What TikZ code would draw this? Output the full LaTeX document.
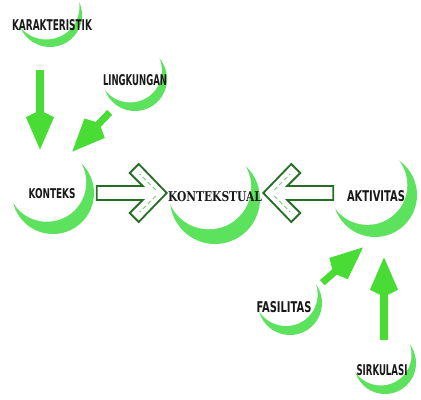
\documentclass[tikz,border=0pt]{standalone}
\usepackage{fontspec}
\usepackage{xcolor}
\usepackage{graphicx}
\usepackage{tikz}
\usetikzlibrary{arrows.meta,positioning,calc}

\newfontfamily\labelfont{DejaVu Sans}
\newfontfamily\centerfont{DejaVu Serif}

\definecolor{moongreen}{RGB}{92,226,92}
\definecolor{leaf}{RGB}{72,220,52}
\definecolor{dkgreen}{RGB}{38,110,38}
\definecolor{palegreen}{RGB}{120,200,120}

\newlength\pxu
\setlength\pxu{0.025cm}
\newcommand{\lbl}[3]{\resizebox{#1\pxu}{#2\pxu}{#3}}
\newcommand{\moon}[5]{%
  \fill[moongreen] (#1,#2) circle[radius=#3];
  \fill[white] ({#1+0.3*#3*cos(#4)},{#2-0.3*#3*sin(#4)}) circle[radius=#5*#3];}

\tikzset{
  tag/.style={inner sep=0pt, font=\labelfont\bfseries, text=black!90},
  garrow/.style={draw=leaf, line width=5pt, -{Kite[length=28pt,width=20pt,inset=5pt]}},
  hollow/.style={draw=dkgreen, line width=1.3pt, line join=miter},
  innerdash/.style={draw=palegreen, line width=0.6pt, dash pattern=on 3pt off 2pt},
  chev/.pic={
    \draw[hollow] (-70,-7) -- (-24,-7) -- (-37,-20) -- (-28,-29) -- (0,0)
      -- (-28,29) -- (-37,20) -- (-24,7) -- (-70,7) -- cycle;
    \draw[innerdash] (-11,-3) -- (-27,-19) (-11,3) -- (-27,19);
  }
}

\begin{document}
\begin{tikzpicture}[x=0.025cm, y=-0.025cm]
\useasboundingbox (0,0) rectangle (421,400);

\moon{50}{15}{32}{113}{1.04}
\moon{135}{79}{32}{120}{0.99}
\moon{53}{193}{41}{120}{0.96}
\moon{215}{199}{45}{117}{0.94}
\moon{375}{195}{42}{127}{0.95}
\moon{290}{303}{32}{115}{0.99}
\moon{385}{363}{31}{117}{0.99}

\node[tag] (karakteristik) at (52,25) {\lbl{80}{11}{KARAKTERISTIK}};
\node[tag] (lingkungan) at (135,80) {\lbl{64}{11}{LINGKUNGAN}};
\node[tag] (konteks) at (52,194) {\lbl{47}{10}{KONTEKS}};
\node[tag, font=\centerfont\bfseries] (kontekstual) at (215,197) {\lbl{94}{10}{KONTEKSTUAL}};
\node[tag] (aktivitas) at (376,196) {\lbl{58}{11}{AKTIVITAS}};
\node[tag] (fasilitas) at (284,307) {\lbl{55}{11}{FASILITAS}};
\node[tag] (sirkulasi) at (382,370) {\lbl{51}{11}{SIRKULASI}};

\draw[garrow] ([shift={(-12,39.5)}]karakteristik.south) -- ([shift={(-12,-39)}]konteks.north);
\draw[garrow] ([shift={(7,26.5)}]lingkungan.south west) -- ([shift={(-3.5,-37)}]konteks.north east);
\draw[garrow] ([shift={(10.5,-18.5)}]fasilitas.north east) -- ([shift={(-13,45.5)}]aktivitas.south);
\draw[garrow] ([shift={(2,-24.5)}]sirkulasi.north) -- ([shift={(8,55.5)}]aktivitas.south);

\pic at ([shift={(-1,-4)}]kontekstual.west) {chev};
\pic[xscale=-1] at ([shift={(1,-4)}]kontekstual.east) {chev};
\end{tikzpicture}
\end{document}
